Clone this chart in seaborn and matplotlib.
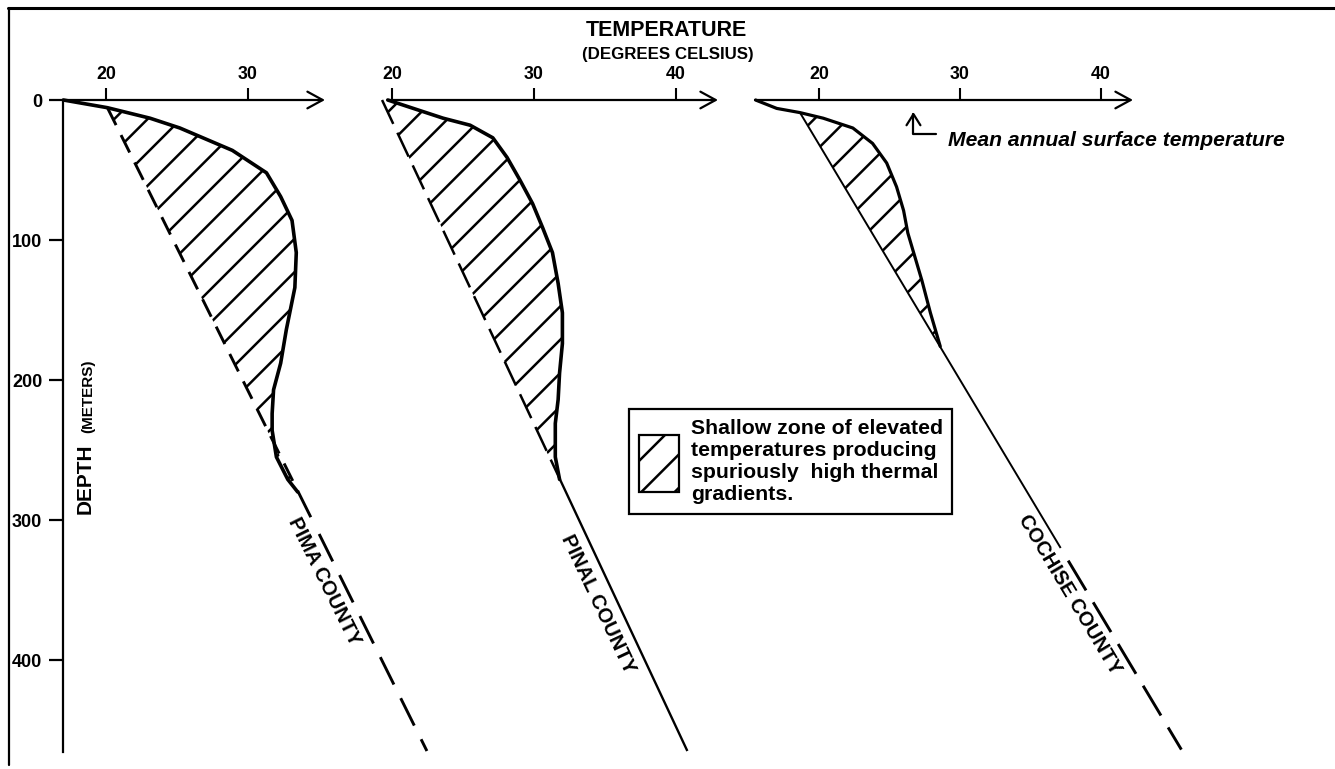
import numpy as np
import matplotlib
matplotlib.use("Agg")
import matplotlib.pyplot as plt
import seaborn as sns
from matplotlib.patches import Patch
from matplotlib.lines import Line2D

# ---------------- data (temperature in deg C, depth in metres) ----------------
pima_curve_temp = [17.0, 20.1, 23.1, 25.2, 28.9, 31.3, 32.3, 33.1, 33.4, 33.3,
                   32.7, 32.3, 31.8, 31.7, 31.7, 32.0, 32.8, 33.5]
pima_curve_depth = [0, 5.5, 13, 20, 36, 52, 69, 86, 109, 134,
                    164, 188, 207, 224, 236, 255, 271, 280]
pima_line_temp = [20.1, 42.6]
pima_line_depth = [5.5, 465]

pinal_curve_temp = [19.7, 21.8, 23.6, 25.5, 27.1, 28.1, 29.0, 29.9, 30.6, 31.3,
                    31.7, 32.0, 32.0, 31.8, 31.7, 31.5, 31.5, 31.8]
pinal_curve_depth = [0, 7, 13, 18, 27, 41, 57, 74, 91, 109,
                     131, 152, 174, 195, 214, 231, 255, 271]
pinal_line_temp = [19.3, 40.8]
pinal_line_depth = [0, 465]

cochise_curve_temp = [15.5, 17.0, 18.65, 20.3, 22.4, 23.8, 24.8, 25.5, 26.0,
                      26.3, 26.8, 27.3, 27.9, 28.6]
cochise_curve_depth = [0, 6, 9, 13, 20, 31, 45, 62, 79, 95, 112, 129, 152, 176]
cochise_line_temp = [18.65, 45.7]
cochise_line_depth = [9, 464]

county_names = ["PIMA COUNTY", "PINAL COUNTY", "COCHISE COUNTY"]
pima_xticks = [20, 30]
pinal_xticks = [20, 30, 40]
cochise_xticks = [20, 30, 40]
depth_ticks = [0, 100, 200, 300, 400]
surface_temp_marker = 26.7  # where the "mean annual surface temperature" arrow points

legend_label = ("Shallow zone of elevated\ntemperatures producing\n"
                "spuriously  high thermal\ngradients.")

# ---------------- style ----------------
sns.set_theme(style="ticks", rc={"text.color": "black", "xtick.color": "black",
                                 "ytick.color": "black", "axes.edgecolor": "black"})
plt.rcParams["font.family"] = ["Liberation Sans", "DejaVu Sans"]
plt.rcParams["lines.scale_dashes"] = False
plt.rcParams["hatch.linewidth"] = 1.8
plt.rcParams["hatch.color"] = "black"

W, H, DPI = 1335, 769, 100
Y0, YB, PXM = 100, 752, 1.40   # pixel row of depth 0, bottom row, px per metre

fig = plt.figure(figsize=(W / DPI, H / DPI), dpi=DPI)
fig.patch.set_facecolor("white")

panels = [
    dict(name=county_names[0], ct=pima_curve_temp, cd=pima_curve_depth,
         lt=pima_line_temp, ld=pima_line_depth, ticks=pima_xticks,
         geom=(63, 325, 106, 14.2), left=True, curve_lw=2.6,
         segs=[((14, 8), 5.5, 280, 2.1), (None, 280, 298, 2.1), ((22, 11), 310, 465, 2.1)],
         label_pos=(35.35, 344)),
    dict(name=county_names[1], ct=pinal_curve_temp, cd=pinal_curve_depth,
         lt=pinal_line_temp, ld=pinal_line_depth, ticks=pinal_xticks,
         geom=(388, 718, 392, 14.2), left=False, curve_lw=2.6,
         segs=[((19, 7), 0, 271, 1.8), (None, 271, 465, 1.7)],
         label_pos=(34.5, 360)),
    dict(name=county_names[2], ct=cochise_curve_temp, cd=cochise_curve_depth,
         lt=cochise_line_temp, ld=cochise_line_depth, ticks=cochise_xticks,
         geom=(755, 1133, 819, 14.1), left=False, curve_lw=2.3,
         segs=[(None, 9, 320, 1.4), ((25, 10), 329, 464, 2.1)],
         label_pos=(37.8, 353.0)),
]

axes = []
for p in panels:
    xl, xr, xref, ppd = p["geom"]
    tmin = 20 + (xl - xref) / ppd
    tmax = 20 + (xr - xref) / ppd
    dmax = (YB - Y0) / PXM
    ax = fig.add_axes([xl / W, 1 - YB / H, (xr - xl) / W, (YB - Y0) / H])
    ax.patch.set_visible(False)

    # hatched zone between the measured curve and the linear gradient
    k = next(i for i, d in enumerate(p["cd"]) if d >= p["ld"][0])
    poly_t = list(p["ct"][k:]) + [p["lt"][0]]
    poly_d = list(p["cd"][k:]) + [p["ld"][0]]
    ax.fill(poly_t, poly_d, facecolor="none", edgecolor="black", hatch="/",
            linewidth=0, clip_on=False)

    # measured temperature profile
    sns.lineplot(x=p["ct"], y=p["cd"], sort=False, estimator=None, ax=ax,
                 color="black", linewidth=p["curve_lw"])
    ax.lines[-1].set_clip_on(False)
    ax.lines[-1].set_solid_joinstyle("round")

    # linear gradient line
    for dash, d0, d1, lw in p["segs"]:
        t0 = np.interp(d0, p["ld"], p["lt"])
        t1 = np.interp(d1, p["ld"], p["lt"])
        kw = dict(color="black", lw=lw, clip_on=False, solid_capstyle="butt",
                  dash_capstyle="butt")
        if dash is not None:
            kw["dashes"] = dash
        ax.plot([t0, t1], [d0, d1], **kw)

    ax.set_xlim(tmin, tmax)
    ax.set_ylim(dmax, 0)

    # temperature axis with arrow
    ax.annotate("", xy=(tmax, 0), xytext=(tmin, 0), xycoords="data",
                arrowprops=dict(arrowstyle="->,head_length=0.55,head_width=0.3",
                                lw=1.6, color="black", shrinkA=0, shrinkB=0,
                                mutation_scale=20),
                annotation_clip=False)
    for s in ["top", "bottom", "right", "left"]:
        ax.spines[s].set_visible(False)
    ax.set_xticks(p["ticks"])
    ax.xaxis.set_ticks_position("top")
    ax.tick_params(axis="x", top=True, bottom=False, labeltop=True, labelbottom=False,
                   direction="out", length=9, width=1.5, pad=3, labelsize=12.8)
    for lab in ax.get_xticklabels():
        lab.set_fontweight("bold")

    if p["left"]:
        ax.spines["left"].set_visible(True)
        ax.spines["left"].set_linewidth(1.6)
        ax.set_yticks(depth_ticks)
        ax.tick_params(axis="y", left=True, direction="out", length=10, width=1.6,
                       pad=5, labelsize=13)
        for lab in ax.get_yticklabels():
            lab.set_fontweight("bold")
    else:
        ax.set_yticks([])
    ax.set_xlabel("")
    ax.set_ylabel("")

    # county label parallel to the gradient line
    a = ax.transData.transform((p["lt"][0], p["ld"][0]))
    b = ax.transData.transform((p["lt"][1], p["ld"][1]))
    ang = np.degrees(np.arctan2(b[1] - a[1], b[0] - a[0]))
    ax.text(p["label_pos"][0], p["label_pos"][1], p["name"], rotation=ang,
            rotation_mode="anchor", ha="center", va="center", fontsize=14.5,
            fontweight="bold", clip_on=False)
    axes.append(ax)

# mean annual surface temperature pointer
axes[2].annotate("Mean annual surface temperature", xy=(surface_temp_marker, 8.6),
                 xytext=(29.15, 28.6), xycoords="data", textcoords="data",
                 ha="left", va="center", fontsize=15.2, fontweight="bold",
                 fontstyle="italic",
                 arrowprops=dict(arrowstyle="->,head_length=0.4,head_width=0.25",
                                 connectionstyle="angle,angleA=0,angleB=90,rad=0",
                                 relpos=(0, 0.8), shrinkA=6, shrinkB=0, lw=1.6,
                                 color="black", mutation_scale=20),
                 annotation_clip=False)

# titles
fig.text(666 / W, 1 - 30 / H, "TEMPERATURE", ha="center", va="center",
         fontsize=15.5, fontweight="bold")
fig.text(668 / W, 1 - 55 / H, "(DEGREES CELSIUS)", ha="center", va="center",
         fontsize=12.2, fontweight="bold")
fig.text(85 / W, 1 - 479 / H, "DEPTH", rotation=90, ha="center", va="center",
         fontsize=15, fontweight="bold")
fig.text(88 / W, 1 - 396 / H, "(METERS)", rotation=90, ha="center", va="center",
         fontsize=11, fontweight="bold")

# legend
handle = Patch(facecolor="white", edgecolor="black", hatch="/", linewidth=1.6)
leg = fig.legend(handles=[handle], labels=[legend_label], loc="upper left",
                 bbox_to_anchor=(629 / W, 1 - 409 / H), bbox_transform=fig.transFigure,
                 frameon=True, fancybox=False, edgecolor="black", framealpha=1,
                 fontsize=15.3, handlelength=1.9, handleheight=3.75,
                 handletextpad=0.55, borderpad=0.45, borderaxespad=0)
leg.get_frame().set_linewidth(1.6)
for t in leg.get_texts():
    t.set_fontweight("bold")
    t.set_linespacing(1.22)

# scan frame edges
fig.add_artist(Line2D([8 / W, 1], [1 - 8 / H, 1 - 8 / H], transform=fig.transFigure,
                      color="black", lw=2.2))
fig.add_artist(Line2D([9 / W, 9 / W], [1 - 8 / H, 1 - 765 / H],
                      transform=fig.transFigure, color="black", lw=1.6))

fig.savefig("out.png", dpi=DPI, facecolor="white")
